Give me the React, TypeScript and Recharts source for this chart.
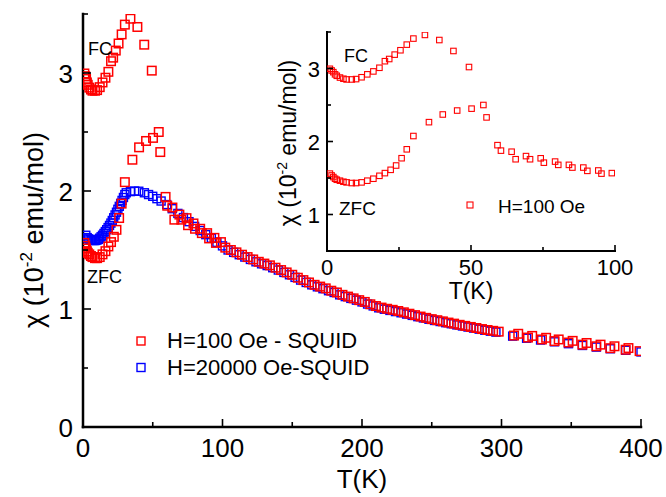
import React from "react";
import { ScatterChart, Scatter, XAxis, YAxis, Legend } from "recharts";

const FONT = "Arial, 'Liberation Sans', Helvetica, sans-serif";
const RED = "#ff0000";
const BLUE = "#0000ff";

// H = 100 Oe, ZFC branch below 100 K (also shown in the inset)
const zfcLowT = [1.0, 1.6, 2.2, 2.8, 3.4, 4.5, 5.7, 6.8, 8.6, 10.1, 12.0, 14.0, 16.1, 18.2, 20.1, 22.1, 24.0, 25.9, 27.7, 30.0, 35.4, 40.2, 45.2, 50.2, 54.3, 55.4, 59.2, 60.4, 64.1, 65.5, 69.1, 70.5, 74.2, 75.3, 79.2, 80.3, 84.0, 85.2, 89.0, 90.4, 94.2, 95.3, 98.9];
const zfcLowChi = [1.56, 1.535, 1.513, 1.49, 1.476, 1.463, 1.449, 1.44, 1.431, 1.431, 1.44, 1.463, 1.49, 1.53, 1.567, 1.612, 1.671, 1.771, 1.893, 2.075, 2.265, 2.37, 2.424, 2.45, 2.5, 2.33, 1.95, 1.875, 1.86, 1.757, 1.8, 1.757, 1.77, 1.71, 1.725, 1.68, 1.68, 1.643, 1.643, 1.598, 1.603, 1.56, 1.567];

// H = 100 Oe, ZFC above 100 K
const zfcHighT = [102, 106, 110, 114, 118, 122, 126, 130, 134, 138, 142, 146, 150, 154, 158, 162, 166, 170, 174, 178, 182, 186, 190, 194, 198, 202, 206, 210, 214, 218, 222, 226, 230, 234, 238, 242, 246, 250, 254, 258, 262, 266, 270, 274, 278, 282, 286, 290, 294, 298, 309, 312, 319, 322, 329, 332, 338, 341, 348, 351, 358, 361, 368, 371, 378, 381, 389, 391, 399];
const zfcHighChi = [1.52, 1.5, 1.48, 1.46, 1.44, 1.42, 1.4, 1.385, 1.37, 1.35, 1.33, 1.31, 1.29, 1.265, 1.245, 1.225, 1.205, 1.19, 1.175, 1.155, 1.14, 1.12, 1.105, 1.09, 1.075, 1.06, 1.04, 1.025, 1.012, 1.002, 0.993, 0.983, 0.972, 0.96, 0.948, 0.936, 0.925, 0.914, 0.905, 0.895, 0.885, 0.876, 0.866, 0.857, 0.848, 0.839, 0.83, 0.822, 0.815, 0.808, 0.775, 0.79, 0.758, 0.772, 0.742, 0.756, 0.728, 0.742, 0.716, 0.73, 0.698, 0.712, 0.684, 0.698, 0.668, 0.684, 0.655, 0.669, 0.643];

// H = 100 Oe, FC branch
const fcT = [1.0, 1.6, 2.2, 2.8, 3.4, 4.5, 5.7, 6.8, 8.6, 10.1, 12.0, 14.0, 16.1, 18.2, 20.1, 21.6, 23.5, 25.5, 27.7, 30.0, 34.0, 39.0, 43.9, 49.3];
const fcChi = [2.996, 2.973, 2.95, 2.92, 2.9, 2.876, 2.86, 2.85, 2.85, 2.855, 2.88, 2.92, 2.96, 3.01, 3.1, 3.13, 3.19, 3.25, 3.327, 3.41, 3.46, 3.39, 3.24, 3.02];

// H = 20000 Oe
const highFieldT = [2, 3, 4, 5, 6, 7, 8, 9, 10, 11, 12, 13, 14, 15, 16, 17, 18, 19, 20, 21, 22, 23, 24, 25, 26, 27, 28, 29, 30, 31, 34, 37, 40, 44, 47, 50, 53, 56, 60, 64, 68, 72, 76, 80, 84, 88, 92, 96, 100, 104, 108, 112, 116, 120, 124, 128, 132, 136, 140, 144, 148, 152, 156, 160, 164, 168, 172, 176, 180, 184, 188, 192, 196, 200, 204, 208, 212, 216, 220, 224, 228, 232, 236, 240, 244, 248, 252, 256, 260, 264, 268, 272, 276, 280, 284, 288, 292, 296, 308, 318, 328, 338, 348, 358, 368, 378, 389, 400];
const highFieldChi = [1.625, 1.605, 1.595, 1.588, 1.584, 1.581, 1.58, 1.581, 1.584, 1.59, 1.6, 1.612, 1.625, 1.64, 1.656, 1.672, 1.69, 1.708, 1.728, 1.75, 1.773, 1.797, 1.82, 1.845, 1.87, 1.895, 1.92, 1.945, 1.97, 1.985, 1.995, 2.0, 1.998, 1.985, 1.97, 1.955, 1.935, 1.915, 1.885, 1.85, 1.81, 1.775, 1.74, 1.7, 1.665, 1.63, 1.6, 1.565, 1.535, 1.5, 1.48, 1.46, 1.44, 1.42, 1.4, 1.383, 1.368, 1.35, 1.33, 1.31, 1.29, 1.268, 1.245, 1.225, 1.205, 1.188, 1.172, 1.155, 1.14, 1.12, 1.105, 1.09, 1.075, 1.06, 1.042, 1.026, 1.01, 0.998, 0.988, 0.978, 0.968, 0.957, 0.946, 0.935, 0.924, 0.913, 0.903, 0.894, 0.884, 0.875, 0.865, 0.856, 0.847, 0.838, 0.829, 0.82, 0.812, 0.804, 0.77, 0.752, 0.737, 0.722, 0.706, 0.691, 0.677, 0.663, 0.65, 0.636];

const mainXTicks = [0, 50, 100, 150, 200, 250, 300, 350, 400];
const mainYTicks = [0, 0.5, 1, 1.5, 2, 2.5, 3, 3.5];
const insetXTicks = [0, 25, 50, 75, 100];
const insetYTicks = [0.5, 1, 1.5, 2, 2.5, 3, 3.5];

const LOW_FIELD = "H=100 Oe - SQUID";
const HIGH_FIELD = "H=20000 Oe-SQUID";

const zip = (t: number[], c: number[]) => t.map((v, i) => ({ t: v, chi: c[i] }));

const zfcData = [...zip(zfcLowT, zfcLowChi), ...zip(zfcHighT, zfcHighChi)];
const zfcInset = zip(zfcLowT, zfcLowChi);
const fcData = zip(fcT, fcChi);
const highFieldData = zip(highFieldT, highFieldChi);

const isMajor = (v: number, every: number) => Math.abs(v / every - Math.round(v / every)) < 1e-6;

// ─── ticks drawn inward ──────────────────────────────────────────────────────

type TickP = { x?: number; y?: number; payload?: { value: number } };

const xTick =
  (every: number, dir: 1 | -1, long: number, short: number, fontSize: number, dy: number, label: boolean) =>
  (p: TickP) => {
    const x = p.x ?? 0;
    const y = p.y ?? 0;
    const v = p.payload?.value ?? 0;
    const major = isMajor(v, every);
    const len = major ? long : short;
    return (
      <g>
        <line x1={x} x2={x} y1={y} y2={y - dir * len} stroke="#000" strokeWidth={1.6} />
        {label && major && (
          <text x={x} y={y + dy} textAnchor="middle" fontSize={fontSize} fontFamily={FONT} fill="#000">
            {v}
          </text>
        )}
      </g>
    );
  };

const yTick =
  (every: number, dir: 1 | -1, long: number, short: number, fontSize: number, dx: number, dy: number, label: boolean) =>
  (p: TickP) => {
    const x = p.x ?? 0;
    const y = p.y ?? 0;
    const v = p.payload?.value ?? 0;
    const major = isMajor(v, every);
    const len = major ? long : short;
    return (
      <g>
        <line x1={x} x2={x + dir * len} y1={y} y2={y} stroke="#000" strokeWidth={1.6} />
        {label && major && (
          <text x={x - dx} y={y + dy} textAnchor="end" fontSize={fontSize} fontFamily={FONT} fill="#000">
            {v}
          </text>
        )}
      </g>
    );
  };

const square = (side: number, color: string, sw: number) => (props: { cx?: number; cy?: number }) => {
  const { cx, cy } = props;
  if (cx == null || cy == null) return <g />;
  return (
    <rect x={cx - side / 2} y={cy - side / 2} width={side} height={side} fill="none" stroke={color} strokeWidth={sw} />
  );
};

const COLORS: Record<string, string> = { [LOW_FIELD]: RED, [HIGH_FIELD]: BLUE, "H=100 Oe": RED };

function MainLegend() {
  const rows = [LOW_FIELD, HIGH_FIELD];
  return (
    <svg width={260} height={56}>
      {rows.map((name, i) => (
        <g key={name}>
          <rect x={4} y={10 + i * 26.5} width={8} height={8} fill="none" stroke={COLORS[name]} strokeWidth={1.4} />
          <text x={34} y={21 + i * 27} fontSize={22} fontFamily={FONT} fill="#000">
            {name}
          </text>
        </g>
      ))}
    </svg>
  );
}

function InsetLegend() {
  return (
    <svg width={130} height={24}>
      <rect x={5} y={9} width={6} height={6} fill="none" stroke={RED} strokeWidth={1.1} />
      <text x={36} y={20} fontSize={19} fontFamily={FONT} fill="#000">
        H=100 Oe
      </text>
    </svg>
  );
}

const axisLine = { stroke: "#000", strokeWidth: 2.5, strokeLinecap: "square" as const };
const insetAxisLine = { stroke: "#000", strokeWidth: 2, strokeLinecap: "square" as const };

export default function App() {
  return (
    <div style={{ position: "absolute", left: 0, top: 0, width: 666, height: 497, background: "#fff" }}>
      {/* main chart */}
      <div style={{ position: "absolute", left: 0, top: 0 }}>
        <ScatterChart width={666} height={497} margin={{ top: 14, right: 25, bottom: 0, left: 0 }}>
          <XAxis
            xAxisId="b"
            type="number"
            dataKey="t"
            domain={[0, 400]}
            allowDataOverflow
            ticks={mainXTicks}
            interval={0}
            height={70}
            tickSize={0}
            tickMargin={0}
            tickLine={false}
            axisLine={axisLine}
            tick={xTick(100, 1, 8, 5, 26, 30, true)}
          />
          <XAxis
            xAxisId="t"
            orientation="top"
            type="number"
            dataKey="t"
            domain={[0, 400]}
            allowDataOverflow
            ticks={mainXTicks}
            interval={0}
            height={0}
            tickSize={0}
            tickMargin={0}
            tickLine={false}
            axisLine={axisLine}
            tick={xTick(100, -1, 8, 5, 26, 0, false)}
          />
          <YAxis
            yAxisId="l"
            type="number"
            dataKey="chi"
            domain={[0, 3.5]}
            allowDataOverflow
            ticks={mainYTicks}
            interval={0}
            width={83}
            tickSize={0}
            tickMargin={0}
            tickLine={false}
            axisLine={axisLine}
            tick={yTick(1, 1, 8, 5, 26, 10, 10, true)}
          />
          <YAxis
            yAxisId="r"
            orientation="right"
            type="number"
            dataKey="chi"
            domain={[0, 3.5]}
            allowDataOverflow
            ticks={mainYTicks}
            interval={0}
            width={0}
            tickSize={0}
            tickMargin={0}
            tickLine={false}
            axisLine={axisLine}
            tick={yTick(1, -1, 8, 5, 26, 0, 0, false)}
          />
          <Legend
            layout="vertical"
            align="center"
            verticalAlign="middle"
            wrapperStyle={{ left: 133, top: 327, width: 260, height: 56 }}
            content={MainLegend}
          />
          <Scatter
            name={HIGH_FIELD}
            xAxisId="b"
            yAxisId="l"
            data={highFieldData}
            shape={square(8, BLUE, 1.4)}
            isAnimationActive={false}
          />
          <Scatter
            name={LOW_FIELD}
            xAxisId="b"
            yAxisId="l"
            data={zfcData}
            shape={square(8.5, RED, 1.5)}
            isAnimationActive={false}
          />
          <Scatter
            name="FC"
            legendType="none"
            xAxisId="b"
            yAxisId="l"
            data={fcData}
            shape={square(8.5, RED, 1.5)}
            isAnimationActive={false}
          />
        </ScatterChart>
      </div>

      {/* inset */}
      <div style={{ position: "absolute", left: 270, top: 20 }}>
        <ScatterChart width={380} height={300} margin={{ top: 12, right: 35, bottom: 0, left: 0 }}>
          <XAxis
            xAxisId="b"
            type="number"
            dataKey="t"
            domain={[0, 100]}
            allowDataOverflow
            ticks={insetXTicks}
            interval={0}
            height={69}
            tickSize={0}
            tickMargin={0}
            tickLine={false}
            axisLine={insetAxisLine}
            tick={xTick(50, 1, 6, 4, 22, 24, true)}
          />
          <XAxis
            xAxisId="t"
            orientation="top"
            type="number"
            dataKey="t"
            domain={[0, 100]}
            allowDataOverflow
            ticks={insetXTicks}
            interval={0}
            height={0}
            tickSize={0}
            tickMargin={0}
            tickLine={false}
            axisLine={insetAxisLine}
            tick={xTick(50, -1, 6, 4, 22, 0, false)}
          />
          <YAxis
            yAxisId="l"
            type="number"
            dataKey="chi"
            domain={[0.5, 3.5]}
            allowDataOverflow
            ticks={insetYTicks}
            interval={0}
            width={57}
            tickSize={0}
            tickMargin={0}
            tickLine={false}
            axisLine={insetAxisLine}
            tick={yTick(1, 1, 6, 4, 22, 7, 8, true)}
          />
          <YAxis
            yAxisId="r"
            orientation="right"
            type="number"
            dataKey="chi"
            domain={[0.5, 3.5]}
            allowDataOverflow
            ticks={insetYTicks}
            interval={0}
            width={0}
            tickSize={0}
            tickMargin={0}
            tickLine={false}
            axisLine={insetAxisLine}
            tick={yTick(1, -1, 6, 4, 22, 0, 0, false)}
          />
          <Legend
            layout="vertical"
            align="center"
            verticalAlign="middle"
            wrapperStyle={{ left: 192, top: 173, width: 130, height: 24 }}
            content={InsetLegend}
          />
          <Scatter
            name="H=100 Oe"
            xAxisId="b"
            yAxisId="l"
            data={zfcInset}
            shape={square(5.5, RED, 1.1)}
            isAnimationActive={false}
          />
          <Scatter
            name="FC"
            legendType="none"
            xAxisId="b"
            yAxisId="l"
            data={fcData}
            shape={square(5.5, RED, 1.1)}
            isAnimationActive={false}
          />
        </ScatterChart>
      </div>

      {/* axis titles and branch labels */}
      <svg
        width={666}
        height={497}
        style={{ position: "absolute", left: 0, top: 0, pointerEvents: "none" }}
        fontFamily={FONT}
      >
        <text x={362} y={488} textAnchor="middle" fontSize={26}>
          T(K)
        </text>
        <text transform="translate(43,230) rotate(-90)" textAnchor="middle" fontSize={27}>
          χ (10
          <tspan dy={-11} fontSize={17}>
            -2
          </tspan>
          <tspan dy={11}> emu/mol)</tspan>
        </text>
        <text x={88} y={55} fontSize={18}>
          FC
        </text>
        <text x={87} y={283} fontSize={18}>
          ZFC
        </text>

        <text x={471} y={299} textAnchor="middle" fontSize={23}>
          T(K)
        </text>
        <text transform="translate(296,143) rotate(-90)" textAnchor="middle" fontSize={23}>
          χ (10
          <tspan dy={-9} fontSize={14}>
            -2
          </tspan>
          <tspan dy={9}> emu/mol)</tspan>
        </text>
        <text x={344} y={62} fontSize={18}>
          FC
        </text>
        <text x={339} y={215} fontSize={19}>
          ZFC
        </text>
      </svg>
    </div>
  );
}
